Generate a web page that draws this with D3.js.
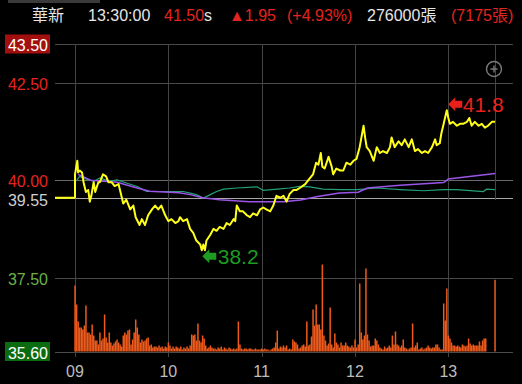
<!DOCTYPE html>
<html>
<head>
<meta charset="utf-8">
<script src="https://cdn.jsdelivr.net/npm/d3@7"></script>
<style>
  html, body { margin: 0; padding: 0; background: #000; }
  svg { display: block; }
</style>
</head>
<body>
<div id="chart"></div>
<script>
// header values
const stockName = "華新"
const quoteTime = "13:30:00"
const lastPrice = 41.50
const change = 1.95
const changePct = 4.93
const totalVol = 276000
const lastVol = 7175

// price axis
const prevClose = 39.55
const limitUp = 43.50
const limitDown = 35.60
const priceTicks = [43.50, 42.50, 40.00, 39.55, 37.50, 35.60]
const hourTicks = [0, 60, 120, 180, 240]
const hourLabels = ["09", "10", "11", "12", "13"]

// price line, minutes from 09:00
const priceTimes = [0, 1.5, 2, 3, 4.5, 5.5, 7, 8.5, 9.5, 10.5, 12, 13, 15, 16, 18, 20, 21.5, 23.5, 25.5, 28,
  29.5, 31, 33, 35.5, 37.5, 39, 41.5, 43, 45, 47, 49.5, 51.5, 53.5, 55.5, 58, 60, 62, 64.5, 66.5, 67.5,
  69.5, 72, 74, 76, 78, 80.5, 81.5, 82.5, 83.5, 84.5, 87, 89, 91, 93, 95.5, 97.5, 99.5, 102, 103, 104,
  106, 108, 110.5, 112.5, 114.5, 117, 119, 121, 123, 125.5, 127.5, 129.5, 132, 134, 136, 138, 140.5, 142.5, 144.5, 148,
  150, 153, 155, 156.5, 158, 159, 160.5, 163, 165, 166, 168, 170.5, 172.5, 174.5, 177, 179, 181, 183, 185.5, 186.5,
  187.5, 189.5, 192, 194, 196, 198, 200.5, 202.5, 203.5, 205.5, 208, 210, 212, 214.5, 216.5, 218.5, 220.5, 223, 225, 227,
  229.5, 231.5, 232.5, 234.5, 235.5, 237, 239, 240, 241, 243, 245.5, 247.5, 249.5, 252, 253.5, 255, 257, 259.5, 261.5, 263.5,
  265.5, 268, 270]
const priceValues = [40.15, 40.50, 40.20, 40.25, 40.20, 39.95, 39.70, 39.75, 39.45, 39.60, 39.95, 39.70, 39.95, 39.95, 40.15, 40.10, 39.95, 39.95, 39.85, 39.90,
  39.65, 39.40, 39.50, 39.25, 39.35, 39.05, 38.85, 39.00, 38.85, 39.10, 39.25, 39.35, 39.25, 39.35, 39.10, 38.95, 39.00, 38.90, 38.95, 39.05,
  38.95, 39.00, 38.75, 38.65, 38.45, 38.35, 38.20, 38.35, 38.20, 38.45, 38.60, 38.75, 38.70, 38.80, 38.75, 38.90, 38.85, 39.00, 38.95, 39.35,
  39.20, 39.20, 39.10, 39.05, 39.15, 39.10, 39.25, 39.30, 39.25, 39.20, 39.35, 39.60, 39.55, 39.60, 39.45, 39.65, 39.75, 39.75, 39.80, 39.90,
  40.00, 40.15, 40.45, 40.40, 40.70, 40.35, 40.30, 40.60, 40.35, 40.15, 40.30, 40.25, 40.25, 40.45, 40.40, 40.50, 40.55, 40.85, 41.40, 41.10,
  40.85, 40.75, 40.50, 40.85, 40.70, 40.75, 40.70, 40.85, 41.10, 40.85, 41.00, 40.90, 41.05, 40.85, 41.05, 40.75, 40.80, 40.70, 40.75, 40.70,
  40.85, 41.05, 40.90, 40.95, 41.20, 41.45, 41.80, 41.60, 41.45, 41.50, 41.40, 41.45, 41.45, 41.50, 41.60, 41.40, 41.50, 41.40, 41.45, 41.35,
  41.40, 41.50, 41.50]

// average price line (purple)
const avgTimes = [2, 10, 27, 40, 48, 67, 74, 82, 93, 112, 134, 145, 156, 170, 182, 188, 209, 237, 240, 270]
const avgValues = [40.15, 40.00, 39.95, 39.80, 39.72, 39.68, 39.63, 39.55, 39.50, 39.45, 39.45, 39.49, 39.58, 39.67, 39.69, 39.80, 39.87, 39.94, 40.03, 40.17]

// second reference line (teal)
const refTimes = [1, 3, 5, 12, 16, 22.5, 27, 33, 40, 46, 52.5, 61, 69.5, 74, 78, 82.5, 87, 91, 95.5, 104,
  117, 121, 130, 138, 144.5, 151, 159.5, 170.5, 181, 194, 209, 224, 237, 245.5, 262.5, 264.5, 270]
const refValues = [39.99, 40.10, 40.06, 39.97, 40.06, 39.97, 40.01, 39.93, 39.84, 39.71, 39.71, 39.71, 39.71, 39.67, 39.63, 39.54, 39.63, 39.71, 39.77, 39.80,
  39.83, 39.74, 39.77, 39.80, 39.84, 39.83, 39.77, 39.76, 39.76, 39.80, 39.76, 39.73, 39.76, 39.76, 39.71, 39.77, 39.76]

// volume per minute (張), index = minute from 09:00, last one is the 13:30 close
const volumes = [
  6600, 4700, 3000, 2400, 2400, 2200, 2600, 4600, 1900, 1900,
  1700, 2700, 1600, 1100, 1100, 700, 1900, 1100, 1300, 3700,
  1400, 900, 1900, 900, 600, 800, 1000, 1200, 900, 700,
  500, 1600, 1900, 1700, 2100, 2200, 700, 1200, 1900, 3200,
  2400, 1700, 900, 1200, 1000, 1100, 1300, 1400, 600, 700,
  400, 500, 500, 400, 600, 400, 500, 300, 500, 400,
  900, 600, 300, 500, 300, 500, 400, 300, 500, 200,
  400, 300, 500, 300, 600, 1700, 1600, 1700, 1100, 2800,
  1100, 900, 1600, 1300, 600, 300, 400, 600, 400, 300,
  300, 200, 400, 300, 500, 200, 400, 300, 200, 400,
  300, 200, 300, 200, 300, 3000, 700, 300, 200, 300,
  300, 200, 300, 300, 200, 200, 300, 200, 200, 200,
  300, 200, 300, 200, 200, 100, 200, 300, 400, 900,
  2100, 300, 500, 400, 600, 400, 600, 200, 300, 200,
  1200, 1000, 900, 700, 300, 400, 600, 700, 500, 3000,
  600, 700, 1500, 4200, 2600, 4700, 2700, 2700, 2200, 8700,
  1600, 1100, 600, 800, 4400, 700, 400, 1800, 900, 700,
  400, 900, 600, 600, 900, 600, 500, 400, 600, 400,
  1200, 400, 700, 6800, 1900, 1200, 1600, 8300, 1700, 1100,
  500, 600, 600, 1300, 1100, 700, 400, 300, 200, 500,
  300, 400, 600, 400, 1600, 700, 2000, 700, 600, 400,
  600, 1200, 400, 300, 200, 300, 400, 2800, 400, 600,
  900, 200, 300, 400, 200, 300, 400, 600, 400, 300,
  400, 400, 700, 700, 400, 200, 200, 4800, 3100, 6300,
  1600, 1300, 900, 600, 600, 500, 600, 500, 400, 700,
  600, 500, 600, 1300, 800, 600, 700, 600, 600, 600,
  1000, 600, 1100, 1300, 1300, 0, 0, 0, 0, 0,
  7175]

const width = 522
const height = 384
const left = 55
const right = 513
const font = "'Liberation Sans', Arial, 'Noto Sans CJK TC', sans-serif"

const svg = d3.select("#chart")
  .append("svg")
  .attr("width", width)
  .attr("height", height)
  .style("background", "#000")

const x = d3.scaleLinear().domain([0, 270]).range([75, 495])
const y = d3.scaleLinear().domain([limitDown, limitUp]).range([351.5, 44])
const yVol = d3.scaleLinear().domain([0, 9000]).range([351.5, 261.5])

// header
svg.append("rect").attr("x", 8).attr("y", 0).attr("width", 92).attr("height", 3).attr("fill", "#3a3a3a")
const header = svg.append("g").attr("font-family", font).attr("font-size", 16)
const red = "#e3241f"
const white = "#e6e6e6"
header.append("text").attr("x", 32).attr("y", 21).attr("fill", white).text(stockName)
header.append("text").attr("x", 88).attr("y", 21).attr("fill", white).text(quoteTime)
const lp = header.append("text").attr("x", 164).attr("y", 21)
lp.append("tspan").attr("fill", red).text(lastPrice.toFixed(2))
lp.append("tspan").attr("fill", white).text("s")
header.append("text").attr("x", 229).attr("y", 21).attr("fill", red).text("▲" + change.toFixed(2))
header.append("text").attr("x", 287).attr("y", 21).attr("fill", red).text("(+" + changePct.toFixed(2) + "%)")
header.append("text").attr("x", 367).attr("y", 21).attr("fill", white).text(totalVol + "張")
header.append("text").attr("x", 451).attr("y", 21).attr("fill", red).text("(" + lastVol + "張)")

// grid
const grid = svg.append("g")
grid.selectAll("line.h").data(priceTicks).enter().append("line")
  .attr("x1", left).attr("x2", right)
  .attr("y1", d => Math.round(y(d)) + 0.5).attr("y2", d => Math.round(y(d)) + 0.5)
  .attr("stroke", d => d === prevClose ? "#a8a8a8" : (d === 40 ? "#6a6a6a" : "#4a4a4a"))
grid.selectAll("line.v").data(hourTicks).enter().append("line")
  .attr("x1", d => Math.round(x(d)) + 0.5).attr("x2", d => Math.round(x(d)) + 0.5)
  .attr("y1", 44).attr("y2", 357)
  .attr("stroke", "#444")
grid.append("line")
  .attr("x1", Math.round(x(270)) + 0.5).attr("x2", Math.round(x(270)) + 0.5)
  .attr("y1", 44).attr("y2", 200)
  .attr("stroke", "#444")

// volume bars
svg.append("g").selectAll("rect")
  .data(volumes.map((v, i) => [i, v]).filter(d => d[1] > 0))
  .enter().append("rect")
  .attr("x", d => x(d[0]) - 0.7)
  .attr("width", 1.5)
  .attr("y", d => yVol(d[1]))
  .attr("height", d => yVol(0) - yVol(d[1]))
  .attr("fill", "#ee5a1c")

// lines
const line = d3.line().x(d => x(d[0])).y(d => y(d[1]))
svg.append("path")
  .datum(refTimes.map((t, i) => [t, refValues[i]]))
  .attr("d", line).attr("fill", "none").attr("stroke", "#23a07a").attr("stroke-width", 1.2)
svg.append("path")
  .datum(avgTimes.map((t, i) => [t, avgValues[i]]))
  .attr("d", line).attr("fill", "none").attr("stroke", "#9a55e6").attr("stroke-width", 1.5)

const pricePts = priceTimes.map((t, i) => [t, priceValues[i]])
svg.append("path")
  .attr("d", `M${left},${y(prevClose)}H${x(0)}` + line(pricePts).replace(/^M/, "L"))
  .attr("fill", "none").attr("stroke", "#ffff1a").attr("stroke-width", 2).attr("stroke-linejoin", "round")

// y labels
const yl = svg.append("g").attr("font-family", font).attr("font-size", 16)
const labelColor = d => d === limitUp || d === limitDown ? "#fff" : d > prevClose ? "#e3241f" : d === prevClose ? "#cfcfcf" : "#6cb04a"
yl.selectAll("rect").data([limitUp, limitDown]).enter().append("rect")
  .attr("x", 5).attr("width", 45)
  .attr("y", d => y(d) - 9.5).attr("height", 19)
  .attr("fill", d => d === limitUp ? "#a30e0e" : "#0b6b10")
yl.selectAll("text").data(priceTicks).enter().append("text")
  .attr("x", 48)
  .attr("y", d => y(d) + (d === prevClose ? 8 : 7))
  .attr("text-anchor", "end")
  .attr("fill", labelColor)
  .text(d => d.toFixed(2))

// x labels
svg.append("g").attr("font-family", font).attr("font-size", 16)
  .selectAll("text").data(hourTicks).enter().append("text")
  .attr("x", d => x(d)).attr("y", 377)
  .attr("text-anchor", "middle")
  .attr("fill", "#bdbdbd")
  .text((d, i) => hourLabels[i])

// zoom icon
const icon = svg.append("g").attr("stroke", "#7a7a7a").attr("stroke-width", 1.4).attr("fill", "none")
icon.append("circle").attr("cx", 494).attr("cy", 69).attr("r", 7.5)
icon.append("path").attr("d", "M490.5,69H497.5M494,65.5V72.5")

// high / low markers
const hiIdx = d3.maxIndex(priceValues)
const loIdx = d3.minIndex(priceValues)
const arrow = (tx, ty) => `M${tx},${ty}L${tx + 7},${ty - 7}V${ty - 3.5}H${tx + 14}V${ty + 3.5}H${tx + 7}V${ty + 7}Z`
const hx = x(priceTimes[hiIdx]), hy = y(priceValues[hiIdx])
svg.append("path").attr("d", arrow(hx + 1.5, hy - 6)).attr("fill", "#e8201c")
svg.append("text").attr("x", hx + 16).attr("y", hy + 2)
  .attr("font-family", font).attr("font-size", 21).attr("fill", "#e8201c")
  .text(priceValues[hiIdx].toFixed(1))
const lx = x(priceTimes[loIdx]), ly = y(priceValues[loIdx])
svg.append("path").attr("d", arrow(lx + 0.5, ly + 6)).attr("fill", "#1f9a22")
svg.append("text").attr("x", lx + 16).attr("y", ly + 14)
  .attr("font-family", font).attr("font-size", 21).attr("fill", "#1f9a22")
  .text(priceValues[loIdx].toFixed(1))
</script>
</body>
</html>
